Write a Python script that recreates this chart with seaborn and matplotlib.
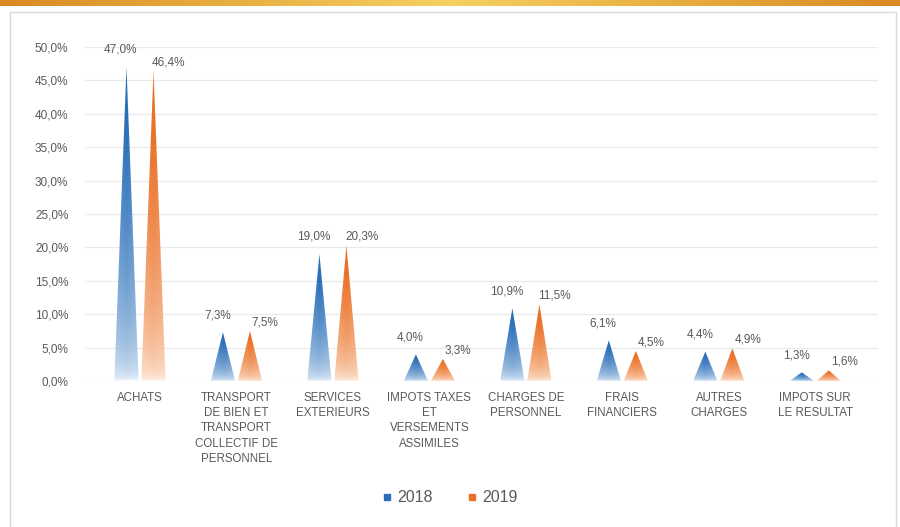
import numpy as np
import pandas as pd
import matplotlib
matplotlib.use("Agg")
import matplotlib.pyplot as plt
import seaborn as sns
from matplotlib.patches import Polygon, Rectangle
from matplotlib.lines import Line2D
from matplotlib.colors import to_rgb

categories = [
    "ACHATS",
    "TRANSPORT\nDE BIEN ET\nTRANSPORT\nCOLLECTIF DE\nPERSONNEL",
    "SERVICES\nEXTERIEURS",
    "IMPOTS TAXES\nET\nVERSEMENTS\nASSIMILES",
    "CHARGES DE\nPERSONNEL",
    "FRAIS\nFINANCIERS",
    "AUTRES\nCHARGES",
    "IMPOTS SUR\nLE RESULTAT",
]
years = ["2018", "2019"]
values_2018 = [47.0, 7.3, 19.0, 4.0, 10.9, 6.1, 4.4, 1.3]
values_2019 = [46.4, 7.5, 20.3, 3.3, 11.5, 4.5, 4.9, 1.6]
y_ticks = [0, 5, 10, 15, 20, 25, 30, 35, 40, 45, 50]

dark = {"2018": "#2A6FB8", "2019": "#EA7026"}
light = {"2018": "#F4F9FE", "2019": "#FFF5EC"}
text_gray = "#595959"

df = pd.DataFrame({
    "cat": categories * 2,
    "year": [years[0]] * len(categories) + [years[1]] * len(categories),
    "val": values_2018 + values_2019,
})

sns.set_theme(style="white")
plt.rcParams["font.family"] = ["Liberation Sans", "DejaVu Sans"]

W, H = 900, 527
fig = plt.figure(figsize=(9, 5.27), dpi=100)
fig.patch.set_facecolor("white")

# top decorative band
band = fig.add_axes([0, 1 - 6 / H, 1, 6 / H])
xs = np.linspace(0, 1, 400)
c_edge = np.array(to_rgb("#D98A22"))
c_mid = np.array(to_rgb("#F6D160"))
w = 1 - np.abs(xs - 0.5) * 2
grad = c_edge[None, :] * (1 - w[:, None]) + c_mid[None, :] * w[:, None]
band.imshow(grad[None, :, :], aspect="auto", extent=[0, 1, 0, 1])
band.set_axis_off()

# frame
fig.patches.append(Rectangle((10 / W, -0.01), 886 / W, 1 - 12 / H + 0.01,
                             transform=fig.transFigure, fill=False,
                             edgecolor="#DADADA", lw=1.0))

ax = fig.add_axes([85 / W, 1 - 381 / H, 793 / W, (381 - 47) / H])
sns.barplot(data=df, x="cat", y="val", hue="year", order=categories,
            hue_order=years, width=0.56, errorbar=None,
            palette=[dark[y] for y in years], ax=ax, legend=False)

N = 200
for year, cont in zip(years, ax.containers):
    d = np.array(to_rgb(dark[year]))
    l = np.array(to_rgb(light[year]))
    for bar in cont:
        bar.set_visible(False)
        xc = bar.get_x() + bar.get_width() / 2
        hw = bar.get_width() * 0.45
        h = bar.get_height()
        tri = Polygon([[xc - hw, 0], [xc + hw, 0], [xc, h]], closed=True,
                      facecolor="none", edgecolor="none")
        ax.add_patch(tri)
        tv = np.linspace(0, 1, N)[:, None]
        u = np.linspace(-1, 1, 40)[None, :]
        inten = np.clip(tv ** 0.45 * 1.1, 0, 1)
        inten = inten * (0.85 + 0.15 * (1 - np.abs(u)))
        img = l[None, None, :] * (1 - inten[:, :, None]) + d[None, None, :] * inten[:, :, None]
        im = ax.imshow(img, extent=[xc - hw, xc + hw, 0, h], origin="lower",
                       aspect="auto", zorder=3, interpolation="bilinear")
        im.set_clip_path(tri)
        lab = f"{h:.1f}".replace(".", ",") + "%"
        off = (-4, 8) if year == "2018" else (11, 2)
        ax.annotate(lab, (xc, h), xytext=off, textcoords="offset points",
                    ha="center", va="bottom", fontsize=8.5, color=text_gray,
                    annotation_clip=False)

ax.set_xlim(-0.57, 7.65)
ax.set_ylim(0, 50)
ax.set_yticks(y_ticks)
ax.set_yticklabels([f"{v:.1f}".replace(".", ",") + "%" for v in y_ticks],
                   fontsize=8.5, color=text_gray)
ax.set_xticks(range(len(categories)))
ax.set_xticklabels(categories, fontsize=8.3, color=text_gray, linespacing=1.35,
                   va="top")
ax.tick_params(axis="y", length=0, pad=12)
ax.tick_params(axis="x", length=0, pad=8)
ax.set_xlabel("")
ax.set_ylabel("")
for s in ax.spines.values():
    s.set_visible(False)
ax.yaxis.grid(True, color="#EAEAEA", lw=0.9)
ax.set_axisbelow(True)

handles = [Line2D([], [], marker="s", linestyle="none", markersize=5,
                  color=dark[y]) for y in years]
fig.legend(handles, years, loc="center", bbox_to_anchor=(0.5, 1 - 498 / H),
           ncol=2, frameon=False, fontsize=11.5, handlelength=0.6,
           handletextpad=0.3, columnspacing=2.2, labelcolor=text_gray)

fig.savefig("out.png", dpi=100)
